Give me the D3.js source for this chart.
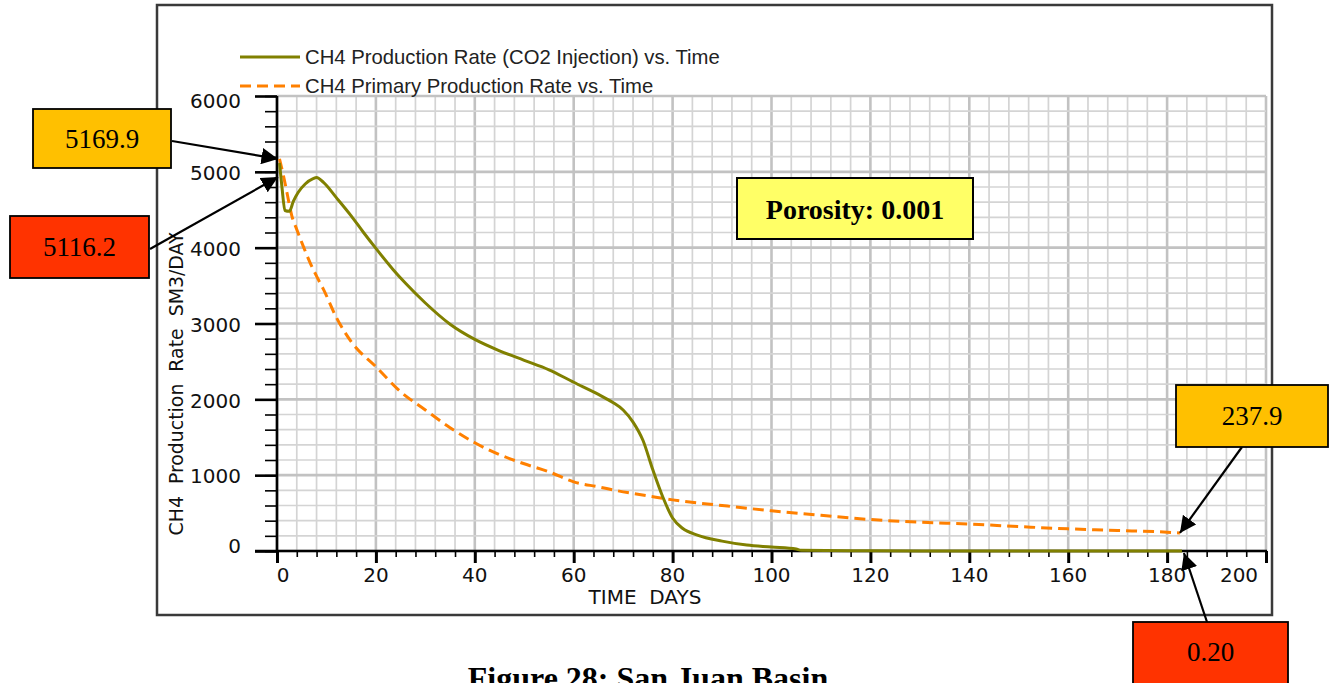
<!DOCTYPE html>
<html>
<head>
<meta charset="utf-8">
<script src="https://cdn.jsdelivr.net/npm/d3@7"></script>
<style>
  html, body { margin: 0; padding: 0; background: #fff; }
  svg { display: block; }
</style>
</head>
<body>
<svg id="chart" width="1329" height="683"></svg>
<script>
// ---- data ----
const xTickValues = [0, 20, 40, 60, 80, 100, 120, 140, 160, 180, 200];
const yTickValues = [0, 1000, 2000, 3000, 4000, 5000, 6000];

// CH4 production rate with CO2 injection (SM3/DAY)
const co2Days = [0.5, 1, 1.6, 2.5, 3.3, 4.3, 5.7, 7.3, 8, 9.4, 12, 15, 17.5, 20, 23.5, 26, 30, 35, 40, 45, 50, 55, 60, 65, 68, 70, 72, 74, 76, 78, 80, 82, 85, 90, 95, 100, 105, 106, 120, 140, 160, 183];
const co2Rate = [5116.2, 4800, 4490, 4480, 4610, 4730, 4840, 4910, 4925, 4860, 4660, 4420, 4200, 3990, 3710, 3530, 3270, 2990, 2790, 2640, 2515, 2390, 2225, 2065, 1955, 1860, 1700, 1460, 1070, 715, 435, 300, 210, 130, 78, 52, 25, 10, 3, 1, 0.5, 0.20];

// CH4 primary production rate (SM3/DAY)
const primDays = [0.5, 1.3, 2, 3, 4, 5.3, 6.7, 8, 9.4, 12, 15, 20, 25, 30, 35, 40, 45, 50, 55, 60, 65, 70, 75, 80, 90, 100, 110, 120, 130, 140, 150, 160, 170, 180, 182.6];
const primRate = [5169.9, 4950, 4730, 4420, 4240, 4020, 3800, 3625, 3450, 3080, 2760, 2430, 2100, 1860, 1625, 1427, 1270, 1150, 1044, 912, 846, 780, 727, 674, 600, 530, 470, 415, 380, 355, 322, 292, 270, 248, 237.9];

const seriesNames = ["CH4 Production Rate (CO2 Injection) vs. Time", "CH4 Primary Production Rate vs. Time"];
const porosityText = "Porosity: 0.001";
const captionText = "Figure 28: San Juan Basin";

// ---- layout ----
const svg = d3.select("#chart");
const x = d3.scaleLinear().domain([0, 200]).range([277, 1266]);
const y = d3.scaleLinear().domain([0, 6000]).range([551, 96]);
const olive = "#808000";
const orange = "#ff8000";
const tickFont = "'DejaVu Sans', sans-serif";

// outer frame of the plot window
svg.append("rect")
  .attr("x", 157).attr("y", 5).attr("width", 1115).attr("height", 610)
  .attr("fill", "#fff").attr("stroke", "#3a3a3a").attr("stroke-width", 2.5);

// grid: minor every 4 days / 200 units, major every 20 days / 1000 units
const grid = svg.append("g");
grid.selectAll("line.v").data(d3.range(0, 201, 4)).join("line")
  .attr("class", "v")
  .attr("x1", d => x(d)).attr("x2", d => x(d))
  .attr("y1", y(0)).attr("y2", y(6000))
  .attr("stroke", d => d % 20 === 0 ? "#c2c2c2" : "#d4d4d4")
  .attr("stroke-width", d => d % 20 === 0 ? 2.6 : 1.7);
grid.selectAll("line.h").data(d3.range(0, 6001, 200)).join("line")
  .attr("class", "h")
  .attr("x1", x(0)).attr("x2", x(200))
  .attr("y1", d => y(d)).attr("y2", d => y(d))
  .attr("stroke", d => d % 1000 === 0 ? "#c2c2c2" : "#d4d4d4")
  .attr("stroke-width", d => d % 1000 === 0 ? 2.6 : 1.7);

// axes
function styleAxis(g, w) {
  g.select(".domain").remove();
  g.selectAll(".tick line").attr("stroke", "#000").attr("stroke-width", w);
  g.selectAll(".tick text").remove();
}
svg.append("g").attr("transform", `translate(${x(0)},0)`)
  .call(d3.axisLeft(y).tickValues(d3.range(0, 6001, 200)).tickSize(12).tickSizeOuter(0))
  .call(g => styleAxis(g, 1.6));
svg.append("g").attr("transform", `translate(${x(0)},0)`)
  .call(d3.axisLeft(y).tickValues(yTickValues).tickSize(22).tickSizeOuter(0))
  .call(g => styleAxis(g, 2.6));
svg.append("g").attr("transform", `translate(0,${y(0)})`)
  .call(d3.axisBottom(x).tickValues(d3.range(0, 201, 4)).tickSize(6).tickSizeOuter(0))
  .call(g => styleAxis(g, 1.6));
svg.append("g").attr("transform", `translate(0,${y(0)})`)
  .call(d3.axisBottom(x).tickValues(xTickValues).tickSize(12).tickSizeOuter(0))
  .call(g => styleAxis(g, 3));
// axis lines
svg.append("line").attr("x1", x(0)).attr("x2", x(0)).attr("y1", y(6000)).attr("y2", y(0) + 1)
  .attr("stroke", "#000").attr("stroke-width", 2.6);
svg.append("line").attr("x1", x(0) - 22).attr("x2", x(200) + 1).attr("y1", y(0)).attr("y2", y(0))
  .attr("stroke", "#000").attr("stroke-width", 2.6);

// series lines (drawn over the axes so the tail near zero stays visible)
const co2Line = d3.line().x((d, i) => x(co2Days[i])).y(d => y(d)).curve(d3.curveMonotoneX);
const primLine = d3.line().x((d, i) => x(primDays[i])).y(d => y(d)).curve(d3.curveMonotoneX);

svg.append("path").datum(primRate)
  .attr("d", primLine)
  .attr("fill", "none").attr("stroke", orange).attr("stroke-width", 3)
  .attr("stroke-dasharray", "11,6");
svg.append("path").datum(co2Rate)
  .attr("d", co2Line)
  .attr("fill", "none").attr("stroke", olive).attr("stroke-width", 3)
  .attr("stroke-linejoin", "round");

// tick labels
svg.append("g").selectAll("text").data(yTickValues).join("text")
  .attr("x", 241)
  .attr("y", d => y(d) + (d === 0 ? -5 : d === 6000 ? 5 : 1))
  .attr("dy", "0.36em")
  .attr("text-anchor", "end")
  .attr("font-family", tickFont).attr("font-size", 20).attr("fill", "#111")
  .text(d => d);
svg.append("g").selectAll("text").data(xTickValues).join("text")
  .attr("x", d => x(d) + (d === 0 ? 6 : d === 200 ? -27 : 0))
  .attr("y", 582)
  .attr("text-anchor", "middle")
  .attr("font-family", tickFont).attr("font-size", 20).attr("fill", "#111")
  .text(d => d);

// axis titles
svg.append("text")
  .attr("x", 645).attr("y", 604)
  .attr("text-anchor", "middle")
  .attr("font-family", tickFont).attr("font-size", 20).attr("fill", "#111")
  .style("white-space", "pre")
  .text("TIME  DAYS");
svg.append("text")
  .attr("transform", "translate(183,384) rotate(-90)")
  .attr("text-anchor", "middle")
  .attr("font-family", tickFont).attr("font-size", 19).attr("fill", "#111")
  .attr("textLength", 303).attr("lengthAdjust", "spacingAndGlyphs")
  .style("white-space", "pre")
  .text("CH4  Production  Rate  SM3/DAY");

// legend
const legend = svg.append("g");
const legendRows = [
  { name: seriesNames[0], color: olive, dash: null, cy: 57 },
  { name: seriesNames[1], color: orange, dash: "11,6", cy: 86 }
];
legendRows.forEach(r => {
  legend.append("line")
    .attr("x1", 240).attr("x2", 300).attr("y1", r.cy).attr("y2", r.cy)
    .attr("stroke", r.color).attr("stroke-width", 3)
    .attr("stroke-dasharray", r.dash);
  legend.append("text")
    .attr("x", 305).attr("y", r.cy + 7)
    .attr("font-family", "'Liberation Sans', Arial, sans-serif").attr("font-size", 20.3)
    .attr("fill", "#222")
    .text(r.name);
});

// arrow marker
svg.append("defs").append("marker")
  .attr("id", "arrow").attr("viewBox", "0 0 10 10")
  .attr("refX", 10).attr("refY", 5)
  .attr("markerWidth", 7.5).attr("markerHeight", 7.5)
  .attr("markerUnits", "strokeWidth")
  .attr("orient", "auto")
  .append("path").attr("d", "M0,0 L10,5 L0,10 Z").attr("fill", "#000");

// callouts: value box + arrow to the end points of each series
const fmt1 = d3.format(".1f"), fmt2 = d3.format(".2f");
const callouts = [
  { text: fmt1(primRate[0]), fill: "#ffc000", box: [33, 109, 138, 59],
    from: [172, 141], to: [x(0) + 1, y(primRate[0])] },
  { text: fmt1(co2Rate[0]), fill: "#ff3300", box: [10, 216, 139, 62],
    from: [150, 249], to: [x(0) + 1, y(co2Rate[0]) + 14] },
  { text: fmt1(primRate[primRate.length - 1]), fill: "#ffc000", box: [1176, 385, 152, 62],
    from: [1242, 447], to: [x(primDays[primDays.length - 1]), y(primRate[primRate.length - 1])] },
  { text: fmt2(co2Rate[co2Rate.length - 1]), fill: "#ff3300", box: [1133, 622, 155, 70],
    from: [1207, 622], to: [x(co2Days[co2Days.length - 1]) + 2, y(co2Rate[co2Rate.length - 1]) + 2] }
];
callouts.forEach(c => {
  svg.append("line")
    .attr("x1", c.from[0]).attr("y1", c.from[1])
    .attr("x2", c.to[0]).attr("y2", c.to[1])
    .attr("stroke", "#000").attr("stroke-width", 2.2)
    .attr("marker-end", "url(#arrow)");
  svg.append("rect")
    .attr("x", c.box[0]).attr("y", c.box[1]).attr("width", c.box[2]).attr("height", c.box[3])
    .attr("fill", c.fill).attr("stroke", "#000").attr("stroke-width", 1.8);
  svg.append("text")
    .attr("x", c.box[0] + c.box[2] / 2)
    .attr("y", c.box[1] + (c.box[3] > 66 ? 30 : c.box[3] / 2))
    .attr("dy", "0.35em")
    .attr("text-anchor", "middle")
    .attr("font-family", "'Liberation Serif', 'Times New Roman', serif").attr("font-size", 27)
    .attr("fill", "#000")
    .text(c.text);
});

// porosity label
svg.append("rect")
  .attr("x", 737).attr("y", 178).attr("width", 236).attr("height", 61)
  .attr("fill", "#ffff66").attr("stroke", "#000").attr("stroke-width", 2);
svg.append("text")
  .attr("x", 855).attr("y", 209).attr("dy", "0.35em")
  .attr("text-anchor", "middle")
  .attr("font-family", "'Liberation Serif', 'Times New Roman', serif")
  .attr("font-size", 28).attr("font-weight", "bold")
  .text(porosityText);

// figure caption
svg.append("text")
  .attr("x", 648).attr("y", 689)
  .attr("text-anchor", "middle")
  .attr("font-family", "'Liberation Serif', 'Times New Roman', serif")
  .attr("font-size", 32).attr("font-weight", "bold")
  .text(captionText);
</script>
</body>
</html>
